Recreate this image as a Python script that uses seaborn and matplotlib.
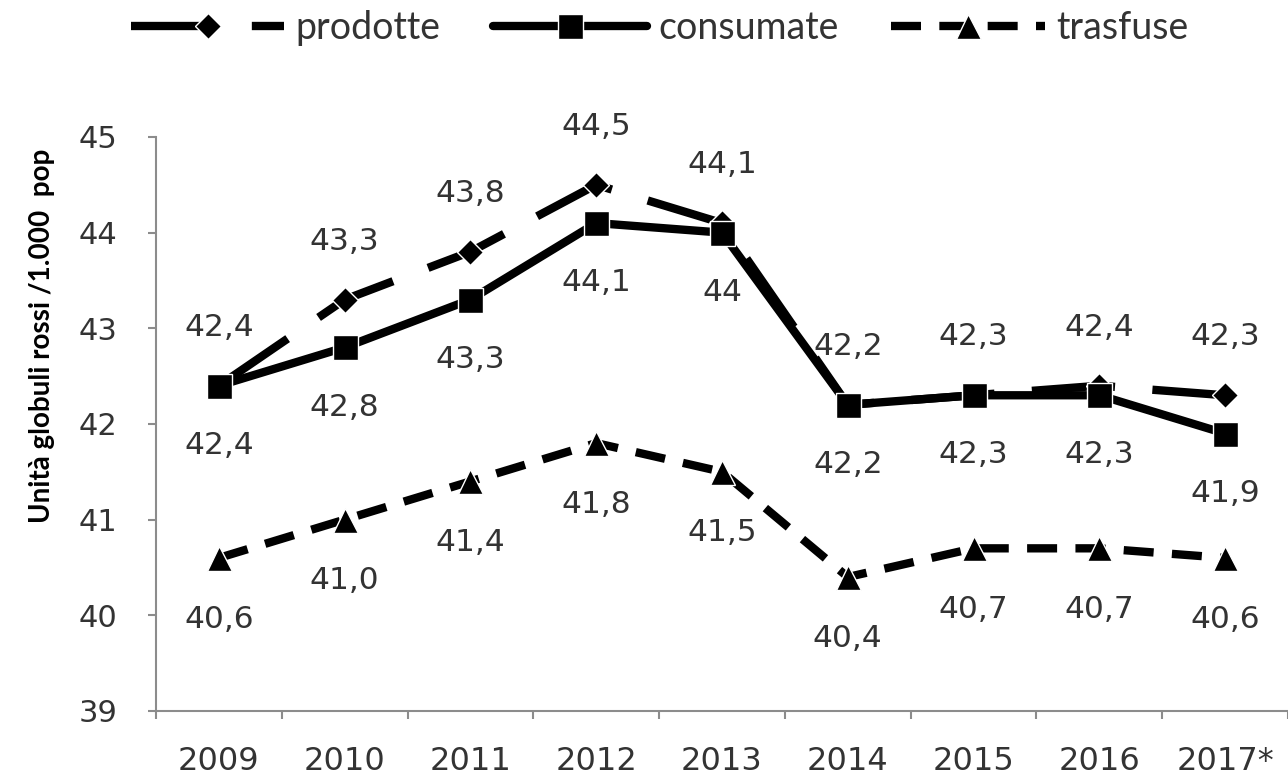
import numpy as np
import pandas as pd
import matplotlib
matplotlib.use("Agg")
import matplotlib.pyplot as plt
import seaborn as sns

# -----------------------------
# DATA
# -----------------------------
anni = ['2009', '2010', '2011', '2012', '2013', '2014', '2015', '2016', '2017*']
prodotte = [42.4, 43.3, 43.8, 44.5, 44.1, 42.2, 42.3, 42.4, 42.3]
consumate = [42.4, 42.8, 43.3, 44.1, 44.0, 42.2, 42.3, 42.3, 41.9]
trasfuse = [40.6, 41.0, 41.4, 41.8, 41.5, 40.4, 40.7, 40.7, 40.6]

etichette_prodotte = ['42,4', '43,3', '43,8', '44,5', '44,1', '42,2', '42,3', '42,4', '42,3']
etichette_consumate = ['42,4', '42,8', '43,3', '44,1', '44', '42,2', '42,3', '42,3', '41,9']
etichette_trasfuse = ['40,6', '41,0', '41,4', '41,8', '41,5', '40,4', '40,7', '40,7', '40,6']

serie = ['prodotte', 'consumate', 'trasfuse']
y_ticks = [39, 40, 41, 42, 43, 44, 45]

df = pd.DataFrame({
    'anno': anni * 3,
    'valore': prodotte + consumate + trasfuse,
    'serie': [s for s in serie for _ in anni],
})

# -----------------------------
# STYLE
# -----------------------------
sns.set_style('white')
plt.rcParams['font.family'] = ['DejaVu Sans']
testo = '#333333'
grigio = '#8c8c8c'

fig = plt.figure(figsize=(12.88, 7.76), dpi=100)
ax = fig.add_axes([0.1211, 0.0838, 0.8789, 0.7397])

sns.lineplot(
    data=df, x='anno', y='valore', style='serie', style_order=serie,
    markers={'prodotte': 'D', 'consumate': 's', 'trasfuse': '^'},
    dashes={'prodotte': (10, 4.5), 'consumate': '', 'trasfuse': (3.6, 2.2)},
    color='black', linewidth=6, markersize=18, markeredgewidth=1,
    sort=False, errorbar=None, legend=False, ax=ax,
)
linee = ax.get_lines()[:3]
linee[0].set_markersize(13)

# data labels
for etichette, valori, dy in [(etichette_prodotte, prodotte, 42),
                              (etichette_consumate, consumate, -43),
                              (etichette_trasfuse, trasfuse, -44)]:
    for anno, v, t in zip(anni, valori, etichette):
        ax.annotate(t, xy=(anno, v), xytext=(0, dy), textcoords='offset points',
                    ha='center', va='center', fontsize=22.5, color=testo)

# axes
ax.set_ylim(39, 45)
ax.set_xlim(-0.5, 8.43)
ax.set_yticks(y_ticks)
ax.set_xticks(np.arange(-0.5, 9, 1), minor=True)
ax.tick_params(axis='x', which='major', length=0, pad=25, labelsize=23, labelcolor=testo)
ax.tick_params(axis='x', which='minor', length=6, width=1.5, color=grigio, direction='out')
ax.tick_params(axis='y', which='major', length=6, width=1.5, color=grigio, direction='out',
               pad=22, labelsize=22, labelcolor=testo)
ax.tick_params(left=True, bottom=True)
ax.tick_params(axis='x', which='minor', bottom=True)

for lato in ['top', 'right']:
    ax.spines[lato].set_visible(False)
for lato in ['left', 'bottom']:
    ax.spines[lato].set_color(grigio)
    ax.spines[lato].set_linewidth(1.5)

ax.set_xlabel('')
ax.set_ylabel('Unità globuli rossi /1.000  pop', fontsize=20, fontweight='bold',
              family=['Lato', 'DejaVu Sans'], color='black')
ax.yaxis.set_label_coords(-0.089, 0.653)

fig.legend(linee, serie, loc='center', bbox_to_anchor=(0.512, 0.964), ncol=3,
           frameon=False, handlelength=4.1, handletextpad=0.3, columnspacing=1.4,
           prop={'family': ['Lato', 'DejaVu Sans'], 'size': 27}, labelcolor=testo)

plt.savefig('out.png', dpi=100)
